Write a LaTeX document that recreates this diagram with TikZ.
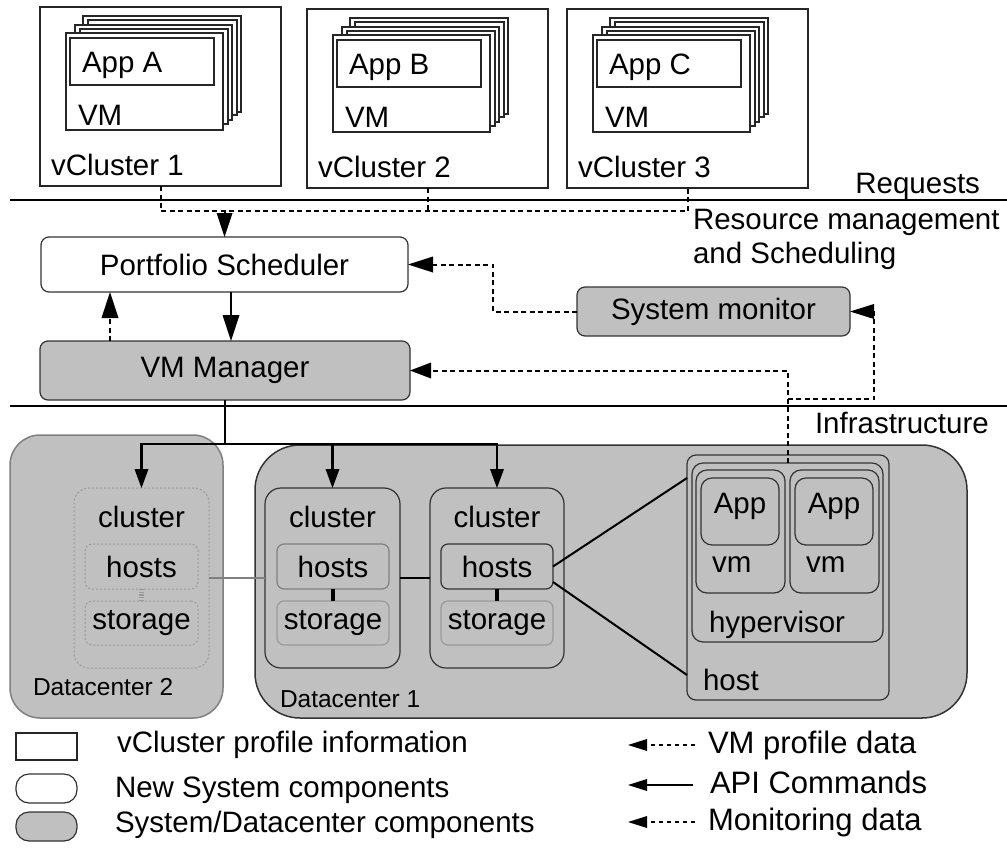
\documentclass[tikz,border=0pt]{standalone}
\usepackage{fontspec}
\setmainfont{Liberation Sans}
\definecolor{compgray}{HTML}{C0C0C0}
\definecolor{darkline}{HTML}{333333}
\definecolor{midline}{HTML}{808080}
\definecolor{lightline}{HTML}{9A9A9A}

% filled triangular arrow heads: tip point, length, width
\newcommand\headdown[3]{\fill #1 -- ++({-(#3)/2},-#2) -- ++(#3,0) -- cycle;}
\newcommand\headup[3]{\fill #1 -- ++({-(#3)/2},#2) -- ++(#3,0) -- cycle;}
\newcommand\headleft[3]{\fill #1 -- ++(#2,{-(#3)/2}) -- ++(0,#3) -- cycle;}

\tikzset{
  txt/.style={inner sep=0pt, outer sep=0pt, font=\fontsize{29.5}{34}\selectfont},
  lbl/.style={txt, anchor=base west},
  dclabel/.style={lbl, font=\fontsize{24.5}{28}\selectfont},
  leglabel/.style={lbl, font=\fontsize{31}{35}\selectfont},
  sized/.style 2 args={minimum width=#1pt, minimum height=#2pt},
  plainbox/.style={draw=black!85, line width=1.2pt, fill=white, inner sep=0pt, outer sep=0pt},
  sheet/.style={draw=black!85, line width=1.1pt, fill=white},
  newbox/.style={plainbox, draw=darkline, rounded corners=8pt, txt},
  sysbox/.style={newbox, fill=compgray},
  dcbox/.style={draw=darkline, line width=1.5pt, fill=compgray, inner sep=0pt, outer sep=0pt},
  inbox/.style={draw=darkline, line width=1.2pt, fill=compgray, inner sep=0pt, outer sep=0pt, txt},
  sepline/.style={line width=2pt, black},
  api/.style={line width=2.4pt},
  dline/.style={line width=2pt, dash pattern=on 5pt off 3.5pt},
  legdash/.style={line width=1.8pt, dash pattern=on 4pt off 4pt},
  conn/.style={line width=2pt, black},
}

\begin{document}
\begin{tikzpicture}[x=1pt,y=-1pt]
\useasboundingbox (0,0) rectangle (1007,847);

% ---------- virtual clusters ----------
\foreach \dx/\dy/\n/\a in {0/0/1/A,267/2/2/B,527/2/3/C}{
  \begin{scope}[shift={(\dx,\dy)}]
    \node[plainbox, sized={241}{179}] (vc\n) at (160.5,96.5) {};
    \foreach \xa/\ya/\xb/\yb in {83/16/241/112, 88/20/237/115, 75/25/232/120, 80/29/228/124, 66/33/223/130}
      \draw[sheet] (\xa,\ya) rectangle (\xb,\yb);
    \node[plainbox, sized={144}{47}] (app\a) at (142,61.5) {};
    \node[lbl] (appt\a) at (82,72) {App \a};
    \node[lbl] (vmt\a) at (78,125) {VM};
    \node[lbl] (vct\n) at (51,175) {vCluster \n};
  \end{scope}
}

% ---------- layer separators ----------
\coordinate (rqL) at (10,200);
\coordinate (rqR) at (1007,200);
\coordinate (infL) at (10,406);
\coordinate (infR) at (1007,406);
\draw[sepline] (rqL) -- (rqR);
\draw[sepline] (infL) -- (infR);
\node[lbl, anchor=base east] (req) at (980,193) {Requests};
\node[lbl] (rm1) at (693,229) {Resource management};
\node[lbl] (rm2) at (693,263) {and Scheduling};
\node[lbl] (infra) at (815,433) {Infrastructure};

% ---------- management components ----------
\node[newbox, sized={367}{55}] (ps) at (224.5,264.5) {Portfolio Scheduler};
\node[sysbox, sized={370}{59}] (vmm) at (225,370.5) {VM Manager};
\node[sysbox, sized={273}{49}] (sm) at (713.5,311.5) {System monitor};

% ---------- datacenters ----------
\node[dcbox, draw=midline, rounded corners=30pt, sized={213}{283}] (dc2) at (116.5,576.5) {};
\node[dcbox, rounded corners=45pt, sized={712}{273}] (dc1) at (611,581.5) {};
\node[dclabel] (dc2t) at (33,695) {Datacenter 2};
\node[dclabel] (dc1t) at (280,707) {Datacenter 1};

% cluster in datacenter 2 (inactive, dotted)
\node[inbox, draw=lightline, line width=1pt, dash pattern=on 2pt off 2pt, rounded corners=15pt, sized={135}{180}] (cl2) at (141.5,578) {};
\node[txt, anchor=base] (cl2t) at (141.5,527) {cluster};
\node[inbox, draw=lightline, line width=1pt, dash pattern=on 2pt off 2pt, rounded corners=7pt, sized={113}{45}] (h2) at (141.5,566.5) {hosts};
\node[inbox, draw=lightline, line width=1pt, dash pattern=on 2pt off 2pt, rounded corners=7pt, sized={113}{44}] (s2) at (141.5,623) {storage};
\draw[lightline, line width=5pt, dash pattern=on 1.2pt off 1.5pt] (h2.south) -- (s2.north);

% clusters in datacenter 1
\node[inbox, rounded corners=16pt, sized={135}{180}] (cla) at (332.5,578) {};
\node[txt, anchor=base] (clat) at (332.5,527) {cluster};
\node[inbox, draw=midline, rounded corners=7pt, sized={112}{45}] (ha) at (333,566.5) {hosts};
\node[inbox, draw=lightline, rounded corners=7pt, sized={112}{44}] (sa) at (333,623) {storage};
\draw[black, line width=4.5pt] (ha.south) -- (sa.north);

\node[inbox, rounded corners=16pt, sized={134}{180}] (clb) at (497,578) {};
\node[txt, anchor=base] (clbt) at (497,527) {cluster};
\node[inbox, rounded corners=7pt, sized={112}{45}] (hb) at (497,566.5) {hosts};
\node[inbox, draw=lightline, rounded corners=7pt, sized={112}{44}] (sb) at (497,623) {storage};
\draw[black, line width=4.5pt] (hb.south) -- (sb.north);

\draw[midline, line width=2pt] (cl2.east) -- (cla.west);
\draw[conn] (cla.east) -- (clb.west);

% host detail
\node[inbox, rounded corners=9pt, sized={202}{245}] (host) at (788,577.5) {};
\node[inbox, rounded corners=11pt, sized={191}{179}] (hyp) at (787.5,552.5) {};
\node[inbox, rounded corners=11pt, sized={89}{123}] (vm1) at (740.5,531.5) {};
\node[inbox, rounded corners=11pt, sized={89}{123}] (vm2) at (834.5,531.5) {};
\node[inbox, rounded corners=11pt, sized={78}{67}] (app1) at (740,511.5) {};
\node[inbox, rounded corners=11pt, sized={78}{67}] (app2) at (834,511.5) {};
\node[txt, anchor=base] (app1t) at (740,513) {App};
\node[txt, anchor=base] (app2t) at (834,513) {App};
\node[lbl] (vm1t) at (712,572) {vm};
\node[lbl] (vm2t) at (806,572) {vm};
\node[lbl] (hypt) at (709,632) {hypervisor};
\node[lbl] (hostt) at (703,690) {host};

\draw[conn] (hb.east) -- ([yshift=-23pt]host.north west);
\draw[conn] ([yshift=-15.5pt]hb.east) -- ([yshift=25pt]host.south west);

% ---------- connectors ----------
% requests from the virtual clusters
\coordinate (bus1) at (0,211);
\draw[dline] (vc1.south) |- (vc3.south |- bus1) -- (vc3.south);
\draw[dline] (vc2.south) -- (vc2.south |- bus1);
\draw[dline, shorten >=20pt] (ps.north |- bus1) -- (ps.north);
\headdown{(ps.north)}{24}{16}

% scheduler <-> VM manager
\coordinate (c231) at (231,0);
\coordinate (c110) at (110,0);
\draw[api, shorten >=22pt] (ps.south -| c231) -- (vmm.north -| c231);
\headdown{(vmm.north -| c231)}{26}{17}
\draw[dline, shorten >=22pt] (vmm.north -| c110) -- (ps.south -| c110);
\headup{(ps.south -| c110)}{26}{17}

% monitoring data to the scheduler
\coordinate (k1) at (493,300);
\draw[dline, shorten >=21pt] (sm.west) -| (k1) |- (ps.east);
\headleft{(ps.east)}{25}{16}

% VM profile data and monitoring data from the hosts
\draw[dline, shorten >=18pt] (hyp.north) |- (vmm.east);
\headleft{(vmm.east)}{21}{16}
\coordinate (m1) at (874,399);
\draw[dline, shorten >=20pt] (hyp.north |- m1) -- (m1) |- (sm.east);
\headleft{(sm.east)}{24}{15}

% API commands to the clusters
\coordinate (bus2) at (0,444);
\draw[api, shorten >=16pt] (vmm.south) |- (cl2.north |- bus2) -- (cl2.north);
\draw[api, shorten >=16pt] (vmm.south) |- (clb.north |- bus2) -- (clb.north);
\draw[api, shorten >=16pt] (vmm.south |- bus2) -| (cla.north);
\headdown{(cl2.north)}{19}{14}
\headdown{(cla.north)}{19}{14}
\headdown{(clb.north)}{19}{14}

% ---------- legend ----------
\node[plainbox, sized={61}{27}] (lg1) at (46.5,746.5) {};
\node[lbl] (lg1t) at (117,752) {vCluster profile information};
\node[newbox, rounded corners=13pt, sized={61}{29}] (lg2) at (46.5,788.5) {};
\node[lbl] (lg2t) at (115,797) {New System components};
\node[sysbox, rounded corners=13pt, sized={61}{29}] (lg3) at (46.5,826.5) {};
\node[lbl] (lg3t) at (115,832) {System/Datacenter components};

\coordinate (la1) at (695,745);
\coordinate (la1e) at (628,745);
\coordinate (la2) at (693,785);
\coordinate (la2e) at (628,785);
\coordinate (la3) at (695,822);
\coordinate (la3e) at (628,822);
\draw[legdash, shorten >=16pt] (la1) -- (la1e);
\draw[line width=2.2pt, shorten >=16pt] (la2) -- (la2e);
\draw[legdash, shorten >=16pt] (la3) -- (la3e);
\headleft{(la1e)}{19}{12}
\headleft{(la2e)}{19}{12}
\headleft{(la3e)}{19}{12}
\node[leglabel] (lr1) at (708,753) {VM profile data};
\node[leglabel] (lr2) at (710,793) {API Commands};
\node[leglabel] (lr3) at (708,830) {Monitoring data};
\end{tikzpicture}
\end{document}
